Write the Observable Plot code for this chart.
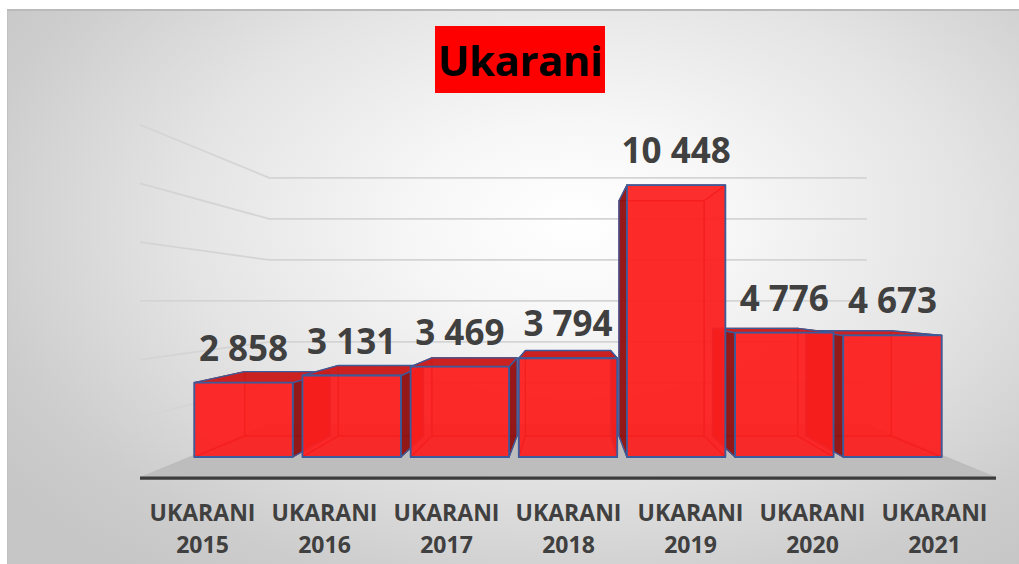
<!DOCTYPE html>
<html><head><meta charset="utf-8">
<script src="https://cdn.jsdelivr.net/npm/d3@7"></script>
<script src="https://cdn.jsdelivr.net/npm/@observablehq/plot@0.6"></script>
<style>
html,body{margin:0;padding:0;background:#fff;}
#wrap{position:relative;width:1019px;height:564px;overflow:hidden;font-family:"Open Sans",sans-serif;}
#panel{position:absolute;left:7px;top:9px;right:0;bottom:0;
  background:radial-gradient(ellipse 70% 80% at 56% 38%, #ffffff 0%, #f7f7f7 22%, #e4e4e4 55%, #cdcdcd 85%, #c6c6c6 100%);
  border-top:2px solid #bababa;border-left:1px solid #c2c2c2;}
#title{position:absolute;left:435px;top:26px;width:170px;height:67px;background:#ff0000;display:flex;align-items:center;justify-content:center;font-weight:700;font-size:42px;color:#000;font-family:"Open Sans",sans-serif;letter-spacing:-0.5px;}
#chart{position:absolute;left:0;top:0;}
</style></head><body>
<div id="wrap"><div id="panel"></div><div id="chart"></div><div id="title">Ukarani</div></div>
<script>
// ---- data ----
const categories = ["2015", "2016", "2017", "2018", "2019", "2020", "2021"];
const values = [2858, 3131, 3469, 3794, 10448, 4776, 4673];
const axisPrefix = "UKARANI";
const gridValues = [2000, 4000, 6000, 8000, 10000, 12000];
const yMax = 12000;

const rows = categories.map((c, i) => ({year: c, value: values[i]}));
const fmt = d3.formatLocale({thousands: " ", grouping: [3], decimal: ".", currency: ["", ""]}).format(",");

// depth factors (relative to the floor front plane)
const K_FRONT = 1 / 1.128, K_BACK = 0.865 / 1.128, K_WALL = 0.7875 / 1.128;

function frame3d(scales, dims) {
  const {x, y} = scales;
  const xr0 = dims.marginLeft, xr1 = dims.width - dims.marginRight;
  const vx = (xr0 + xr1) / 2, vy = y(yMax / 2);
  const P = (px, py, k) => [vx + (px - vx) * k, vy + (py - vy) * k];
  return {x, y, xr0, xr1, vx, vy, P};
}
const poly = pts => "M" + pts.map(p => p.join(",")).join("L") + "Z";

function scene(index, scales, _v, dims) {
  const {y, xr0, xr1, P} = frame3d(scales, dims);
  const g = d3.create("svg:g");
  const y0 = y(0);
  g.append("path")
    .attr("d", poly([P(xr0, y0, 1), P(xr1, y0, 1), P(xr1, y0, K_WALL), P(xr0, y0, K_WALL)]))
    .attr("fill", "#bdbdbd");
  for (const v of gridValues) {
    const a = P(xr0, y(v), 1), b = P(xr0, y(v), K_WALL), c = P(xr1, y(v), K_WALL);
    g.append("path").attr("d", `M${a}L${b}L${c}`)
      .attr("fill", "none").attr("stroke", "#d4d4d4").attr("stroke-width", 1.7);
  }
  const f0 = P(xr0, y0, 1), f1 = P(xr1, y0, 1);
  g.append("line").attr("x1", f0[0]).attr("y1", f0[1] + 1.2).attr("x2", f1[0]).attr("y2", f1[1] + 1.2)
    .attr("stroke", "#3c3c3c").attr("stroke-width", 3.2);
  return g.node();
}

function bars(index, scales, _v, dims) {
  const {x, y, xr0, vx, vy, P} = frame3d(scales, dims);
  const step = x(categories[1]) - x(categories[0]);
  let bw = typeof x.bandwidth === "function" ? x.bandwidth() : x.bandwidth;
  if (!bw) bw = step * (1 - 0.09);
  // the exposed band scale may return band centres; detect and convert to band start
  const centred = (x(categories[0]) - xr0) > step * 0.3;
  const start = c => centred ? x(c) - bw / 2 : x(c);
  const g = d3.create("svg:g");
  const blue = "#3b5b9b", inner = "#a51a1a";
  const items = rows.map(d => {
    const xa = start(d.year), xb = xa + bw, yt = y(d.value), yb = y(0);
    const F = [P(xa, yt, K_FRONT), P(xb, yt, K_FRONT), P(xb, yb, K_FRONT), P(xa, yb, K_FRONT)];
    const B = [P(xa, yt, K_BACK), P(xb, yt, K_BACK), P(xb, yb, K_BACK), P(xa, yb, K_BACK)];
    return {d, F, B, c: (F[0][0] + F[1][0]) / 2};
  });
  items.sort((a, b) => Math.abs(b.c - vx) - Math.abs(a.c - vx));
  for (const {F, B, c} of items) {
    const face = (pts, fill, op, stroke, sw) => g.append("path").attr("d", poly(pts))
      .attr("fill", fill).attr("fill-opacity", op).attr("stroke", stroke).attr("stroke-width", sw).attr("stroke-linejoin", "round");
    const left = [F[0], B[0], B[3], F[3]], right = [F[1], B[1], B[2], F[2]];
    const top = [F[0], F[1], B[1], B[0]], bottom = [F[3], F[2], B[2], B[3]];
    const leftOuter = c > vx, topOuter = F[0][1] > vy;
    face(B, "#e41818", 0.55, inner, 1.1);
    face(bottom, "#c41212", 0.45, inner, 1.1);
    face(leftOuter ? right : left, "#d81010", 0.5, inner, 1.1);
    if (!topOuter) face(top, "#c81414", 0.4, inner, 1.1);
    face(leftOuter ? left : right, "#8e1010", 0.92, blue, 1.4);
    if (topOuter) face(top, "#c91c1c", 0.95, blue, 1.4);
    face(F, "#ff1f1f", 0.88, blue, 1.8);
  }
  for (const {d, F} of items) {
    g.append("text").attr("x", (F[0][0] + F[1][0]) / 2).attr("y", F[0][1] - 22)
      .attr("text-anchor", "middle").attr("font-size", 35).attr("font-weight", "bold")
      .attr("fill", "#404040").text(fmt(d.value));
  }
  return g.node();
}

const chart = Plot.plot({
  width: 1019,
  height: 564,
  marginLeft: 140,
  marginRight: 23,
  marginTop: 125,
  marginBottom: 87,
  style: {background: "transparent", fontFamily: "'Open Sans', sans-serif", fontWeight: "bold", color: "#404040", overflow: "visible"},
  x: {domain: categories, paddingInner: 0.09, paddingOuter: 0.055},
  y: {domain: [0, yMax], range: [477, 124.7], axis: null},
  marks: [
    Plot.ruleY(gridValues, {strokeOpacity: 0}),
    scene,
    bars,
    Plot.axisX({tickSize: 0, tickPadding: 20, fontSize: 23, lineHeight: 1.42,
      tickFormat: d => `${axisPrefix}\n${d}`, label: null})
  ]
});
document.getElementById("chart").append(chart);
</script>
</body></html>
